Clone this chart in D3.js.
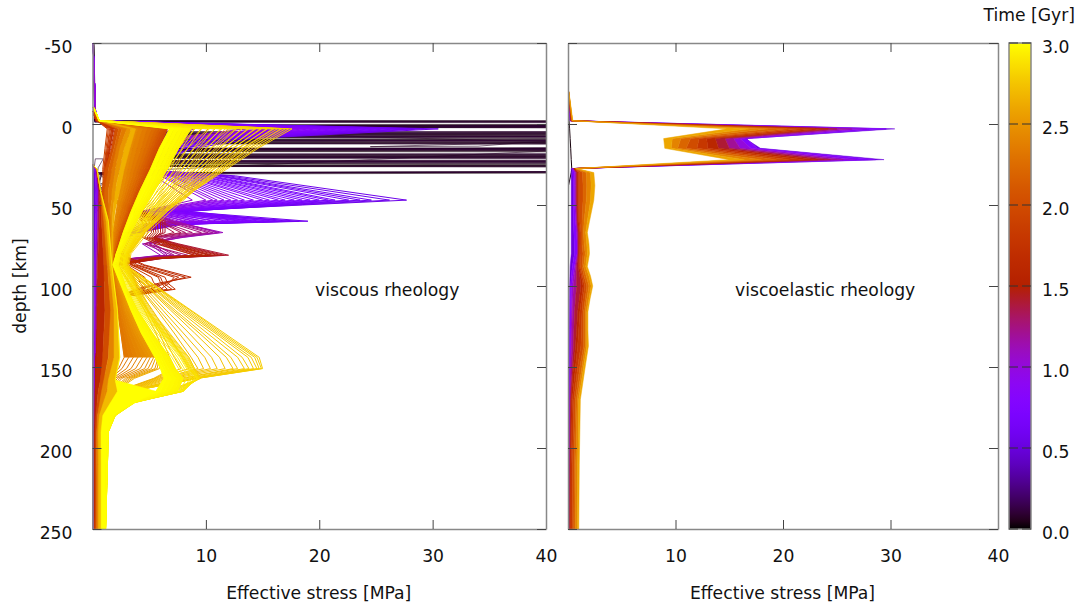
<!DOCTYPE html>
<html>
<head>
<meta charset="utf-8">
<script src="https://cdn.jsdelivr.net/npm/d3@7"></script>
<style>
  body { margin: 0; background: #fff; }
  text { font-family: "DejaVu Sans", sans-serif; font-size: 17.2px; fill: #111; }
  .tick text { font-size: 17.2px; fill: #111; }
  .tick line { stroke: #444; }
  .domain { stroke: #888; stroke-width: 1.5; }
</style>
</head>
<body>
<svg id="chart" width="1086" height="610"></svg>
<script>
// tick labels
var stressTicks = [10, 20, 30, 40];
var depthTicks = [-50, 0, 50, 100, 150, 200, 250];
var timeTicks = [0, 0.5, 1, 1.5, 2, 2.5, 3];

// left panel, first stage: thin lines, [stress, depth] as they zigzag far past the axis
var earlyTimes = [0.012, 0.02, 0.03, 0.05, 0.06, 0.08, 0.09, 0.1, 0.06, 0.08];
var earlyPaths = [
  [[.1,-50],[.2,-2],[280,-1],[3,1],[240,3],[3,6],[220,7],[3,9.5],[200,11],[3,16],[260,17],[3,20],[210,22],[3,24.5],[230,26],[.8,30.5],[2,33],[.4,38],[1,44],[.3,52]],
  [[.1,-50],[.2,-1.5],[250,0],[3,2],[300,4],[3,5],[240,6],[3,8],[220,9],[3,11.5],[250,13],[3,17],[210,18],[3,21],[190,22],[3,25.5],[240,27],[.6,31],[1.5,36],[.5,42],[.3,52]],
  [[.1,-50],[.2,-2],[320,-.5],[3,.5],[260,2],[3,7],[300,8],[3,10],[240,12],[3,15.5],[220,17],[3,19],[260,20],[3,23],[200,24],[3,26],[230,28],[.5,30],[2.2,34],[.6,40],[1,47],[.3,55]],
  [[.1,-50],[.2,-1.8],[290,-.8],[3,1.2],[310,3],[3,6.5],[280,8],[3,11],[220,13],[3,16.5],[240,18],[3,20.5],[280,22],[3,26],[240,27.5],[.9,30],[.5,37],[1.2,43],[.3,52]],
  [[.1,-50],[.2,-1.5],[260,.5],[3,2],[240,4],[3,8.5],[210,10],[3,12.2],[250,13.5],[3,15],[290,16],[3,19.5],[230,21],[3,23.5],[210,25],[.6,30.5],[1.8,33],[.5,39],[.3,52]],
  [[.1,-50],[.3,-1.6],[270,0],[3,1.8],[250,4],[3,7.5],[260,9],[3,12],[240,13.5],[3,15.2],[280,17],[3,20],[210,21],[3,22.5],[200,24],[3,26.2],[230,28],[.8,30],[.3,50]],
  [[.1,-50],[.2,-1],[290,.5],[3,1],[280,4],[3,6],[300,7],[3,10.5],[290,12],[3,16],[240,17.5],[3,18.5],[270,20],[3,24],[250,25.5],[.6,30.2],[1.6,35],[.4,45],[.3,55]],
  [[.1,-50],[.2,-1.9],[260,-1],[3,1.6],[230,3.2],[3,5],[260,6],[3,8],[230,9],[3,10],[260,11.5],[3,15.5],[240,17],[3,21],[280,22.5],[3,23],[220,25],[.5,30.8],[.3,50]],
  // the few that turn back inside the frame
  [[.2,-2],[24,8],[41,11],[24.5,14],[34,13.7],[38,11.5],[48,14],[.7,30],[.3,50]],
  [[.15,27],[.25,21.5],[.95,21.5],[.5,27],[.3,40]]
];

// left panel, second stage: spikes at 47 and 60 km
var purpleDepth = [-50, -2, 3, 9, 15, 22, 28, 32, 47, 50, 54, 60, 62, 67, 73, 80, 100, 150, 250];
var purpleTimes = [0.55, 0.57, 0.59, 0.61, 0.63, 0.65, 0.67, 0.69, 0.71, 0.73, 0.75, 0.77, 0.79, 0.81, 0.83, 0.85, 0.87, 0.89, 0.91, 0.93, 0.95, 0.97, 1.0, 1.05];
var purpleStress = [
  [.05,.3,30.5,14,9,6,4,12.6,27.7,18.5,6.5,13,6,3,2,1.5,.4,.2,.1],
  [.05,.3,29.2,13,8,6,4,12,26.2,17.8,7.6,14,6.5,3.5,2,1.4,.4,.2,.1],
  [.05,.3,28.4,12,9,5,4,11.5,24.6,17,8,19,7.5,4,2.2,1.5,.4,.2,.1],
  [.05,.3,27.8,13,8,6,3.6,11.2,23.6,16.5,5.8,18.2,7,3.4,2,1.3,.4,.2,.1],
  [.05,.3,27,12,8,5.4,3.6,11,22.6,16,7.2,17.4,7.6,3.8,2.1,1.4,.4,.2,.1],
  [.05,.3,26.2,11,8,5,3.5,10.5,21.4,15.4,8.6,16.6,7.8,4,2,1.4,.4,.2,.1],
  [.05,.3,25.4,11.4,7.4,5.2,3.3,10.2,20.8,15,6.4,16.2,6.8,3.6,2.1,1.2,.4,.2,.1],
  [.05,.3,24.8,11,7,5,3.2,10,20,14.6,7.8,15.6,7.2,3.7,2,1.3,.4,.2,.1],
  [.05,.3,24,10.6,7.2,5,3,9.6,19.2,14.2,5.8,15,6.4,3.4,1.9,1.2,.4,.2,.1],
  [.05,.3,23.4,10,7,4.8,3,9.4,18.5,13.8,8,14.4,7,3.8,2,1.3,.4,.2,.1],
  [.05,.3,22.8,10,7,4.5,3,9,17.8,13.2,6,13.8,6.2,3.2,1.8,1.1,.4,.2,.1],
  [.05,.3,22,9.6,6.6,4.5,2.9,8.8,17,12.8,7.4,13.2,6.4,3.4,2,1.2,.4,.2,.1],
  [.05,.3,21.4,9,6.5,4.5,2.8,8.5,16.4,12.2,5.4,12.4,6,3.2,1.8,1.1,.4,.2,.1],
  [.05,.3,20.8,9.2,6.2,4.2,2.8,8.2,15.6,11.6,6.8,11.8,6.2,3.4,1.9,1.2,.4,.2,.1],
  [.05,.3,20,9,6,4,2.8,8,15,11.2,5,11.2,6,3.2,1.8,1,.4,.2,.1],
  [.05,.3,19.4,8.4,6,4,2.7,7.7,14.2,10.6,6.4,10.6,6,3.4,1.9,1.1,.4,.2,.1],
  [.05,.3,18.8,8,6,4,2.6,7.5,13.4,10,4.8,10,6.2,3.6,2,1.1,.4,.2,.1],
  [.05,.3,18.2,8,5.6,3.8,2.5,7.2,12.8,9.6,6,9.6,5.6,3.2,1.7,1,.4,.2,.1],
  [.05,.3,17.6,7.8,5.5,3.6,2.4,7,12.2,9,4.6,9.2,5.4,3.2,1.7,1,.4,.2,.1],
  [.05,.3,17,7.5,5.2,3.5,2.4,6.8,11.6,8.8,5.6,8.8,5.2,3.4,1.8,1,.4,.2,.1],
  [.05,.3,16.4,7.5,5,3.4,2.4,6.5,11,8.4,4.4,8.4,5,3.4,1.8,1,.4,.2,.1],
  [.05,.3,15.6,7.2,5,3.3,2.3,6.2,10.6,8,5.2,8,4.9,3.1,1.7,.9,.4,.2,.1],
  [.05,.3,15,7,5,3.2,2.2,6,10,7.6,4.6,7.6,4.8,3,1.6,.9,.4,.2,.1],
  [.05,.3,13.5,6.5,4.6,3,2.1,5.4,8.8,7,4.2,7,4.4,2.8,1.6,.9,.4,.2,.1]
];

// left panel, third stage: spikes at 67 and 81 km
var maroonDepth = [-8, -2, 3, 15, 28, 47, 60, 67, 70, 74, 81, 83, 87, 100, 150, 250];
var maroonTimes = [1.1, 1.13, 1.16, 1.19, 1.22, 1.25, 1.28, 1.31, 1.34, 1.37, 1.4, 1.42, 1.44, 1.46, 1.48, 1.5, 1.52, 1.54, 1.56];
var maroonStress = [
  [.05,.3,9,4,2,2,7,11.5,8,4.4,6,3.4,1.4,.6,.3,.2],
  [.05,.3,8.4,4,2,2,7.2,11.2,7.8,5,6.4,3.5,1.4,.6,.3,.2],
  [.05,.3,8,4,2,2,7.2,11,7.4,5.4,6.6,3.6,1.4,.6,.3,.2],
  [.05,.3,7.4,3.8,2,2,6.8,10.6,7.2,4.6,7,3.7,1.6,.6,.3,.2],
  [.05,.3,7,3.6,2,2,6.6,10.2,7,5.4,7.2,3.8,1.6,.6,.3,.2],
  [.05,.3,6.4,3.4,2,2,6.4,9.6,6.4,5,7.8,4,1.6,.6,.3,.2],
  [.05,.3,6,3.2,1.8,2,6,8.8,6,4.6,8.4,4.2,1.8,.6,.3,.2],
  [.05,.3,5.6,3,1.8,2,5.8,8.2,5.6,5.8,9,4.6,1.8,.6,.3,.2],
  [.05,.3,5,3,1.8,2,5.8,7.8,5.6,6.2,9.6,4.8,1.8,.6,.3,.2],
  [.05,.3,5,3,1.8,2,5.6,7.2,5.4,6.8,10.4,5.2,2,.6,.3,.2],
  [.05,.3,4.5,2.8,1.6,2,6.4,6.4,5.4,7.6,12,6.2,2.2,.6,.3,.2],
  [.05,.3,4.2,2.7,1.6,2,6.2,6.2,5.4,7.4,11.6,6.1,2.2,.6,.3,.2],
  [.05,.3,4,2.6,1.6,2,6,6,5.6,7.2,11.3,6,2.2,.6,.3,.2],
  [.05,.3,3.8,2.5,1.6,1.9,5.7,5.8,5.4,7,11,5.8,2.2,.6,.3,.2],
  [.05,.3,3.5,2.4,1.6,1.8,5.4,5.6,5.2,6.8,10.6,5.6,2.2,.6,.3,.2],
  [.05,.3,3.2,2.3,1.5,1.8,5.2,5.4,5,6.6,10.2,5.4,2.1,.7,.3,.2],
  [.05,.3,3,2.2,1.5,1.8,5,5.2,4.8,6.4,9.8,5.2,2,.7,.3,.2],
  [.05,.3,2.9,2.1,1.5,1.7,4.7,4.9,4.6,6,9.4,5,2,.7,.3,.2],
  [.05,.3,2.8,2,1.5,1.7,4.4,4.6,4.4,5.6,9,4.8,2,.7,.3,.2]
];

// left panel, fourth stage: spikes at 95 and 102 km
var brownDepth = [-8, -2, 3, 15, 28, 47, 67, 81, 87, 94.6, 98, 102, 106, 115, 150, 250];
var brownTimes = [1.6, 1.63, 1.66, 1.69, 1.72, 1.75, 1.78, 1.81, 1.84, 1.87, 1.9];
var brownStress = [
  [.05,.4,2,1.6,1.2,1.3,1.8,2.8,4.6,8.7,6,3.8,2.4,1.4,.8,.2],
  [.05,.4,1.9,1.5,1.2,1.3,1.8,2.6,4.4,8.2,6.4,4.2,2.4,1.5,.8,.2],
  [.05,.4,2.1,1.7,1.3,1.3,1.7,2.5,4,7.6,6.6,5,2.6,1.5,.9,.2],
  [.05,.4,1.8,1.5,1.2,1.3,1.6,2.4,3.8,7.2,6.8,6,2.8,1.5,.9,.2],
  [.05,.4,1.8,1.5,1.2,1.2,1.6,2.4,3.6,6.4,6.6,7.3,3.4,1.6,.9,.2],
  [.05,.4,1.7,1.4,1.1,1.2,1.5,2.2,3.5,6,6.2,7,3.3,1.6,1,.2],
  [.05,.4,1.7,1.4,1.1,1.2,1.5,2.2,3.4,5.8,6,6.6,3.2,1.6,1,.2],
  [.05,.4,1.6,1.3,1.1,1.2,1.5,2.1,3.2,5.2,5.4,6.2,3,1.6,1,.25],
  [.05,.4,1.5,1.3,1,1.1,1.4,2,3,4.6,4.8,5.4,2.8,1.6,1.1,.25],
  [.05,.4,1.4,1.2,1,1.1,1.4,1.9,2.8,4,4.2,4.6,2.6,1.6,1.1,.25],
  [.05,.4,1.3,1.1,.9,1,1.3,1.8,2.6,3.6,3.8,4,2.4,1.6,1.1,.25]
];

// left panel, orange and yellow fans from 3 km to 87 km and on to 150 km
var fanDepth = [-10, -2, 3, 15, 28, 41, 54, 67, 80, 87, 101, 115, 129, 144, 151, 157, 165, 172, 180, 190, 250];
var orangeTimes = [1.95, 2, 2.05, 2.1, 2.15, 2.2, 2.25, 2.3, 2.35, 2.4, 2.45];
var orangeStress = [
  [.08,.5,6.6,5.9,5.1,4.2,3.4,2.7,2.1,1.8,1.4,1.5,1.5,1.6,1.5,1.1,.8,.6,.5,.42,.38],
  [.08,.5,6.4,5.7,4.9,4.1,3.3,2.6,2,1.8,1.5,1.6,1.6,1.7,1.5,1.1,.9,.7,.55,.46,.42],
  [.08,.5,6.2,5.5,4.8,3.9,3.2,2.5,2,1.8,1.5,1.6,1.7,1.8,1.6,1.2,1,.8,.6,.5,.46],
  [.08,.5,6,5.3,4.6,3.8,3.1,2.4,1.9,1.8,1.6,1.7,1.7,1.8,1.6,1.2,1,.8,.65,.55,.5],
  [.08,.5,5.8,5.1,4.4,3.7,3,2.3,1.9,1.7,1.6,1.7,1.8,1.9,1.7,1.3,1,.85,.7,.58,.54],
  [.08,.55,5.5,4.9,4.2,3.5,2.9,2.3,1.9,1.7,1.7,1.8,1.9,2,1.8,1.3,1,.85,.72,.6,.58],
  [.08,.55,5.2,4.6,4,3.3,2.7,2.2,1.8,1.7,1.7,1.8,1.9,2,1.8,1.3,1,.85,.75,.62,.62],
  [.08,.55,4.8,4.3,3.7,3.1,2.5,2.1,1.8,1.7,1.7,1.8,2,2.1,1.9,1.4,1,.9,.8,.66,.66],
  [.08,.55,4.4,3.9,3.4,2.9,2.4,2,1.8,1.7,1.8,1.9,2,2.1,1.9,1.4,1.1,.9,.82,.7,.7],
  [.08,.6,4,3.5,3.1,2.7,2.2,1.9,1.7,1.7,1.8,1.9,2,2.2,2,1.5,1.1,.95,.85,.72,.72],
  [.08,.6,3.6,3.2,2.8,2.4,2.1,1.8,1.7,1.8,1.8,1.9,2.1,2.2,2,1.5,1.1,.95,.9,.75,.75]
];
// solid part next to the axis above 87 km
var upperDepth = [-2, 3, 15, 28, 41, 54, 67, 80, 87];
var upperTimes = [1.9, 2.05, 2.2, 2.35, 2.5, 2.65];
var upperStress = [
  [.5,2,1.7,1.1,.8,.8,.9,1,1],
  [.5,2.3,1.9,1.4,1.05,1.1,1.2,1.3,1.4],
  [.55,2.6,2.1,1.7,1.4,1.4,1.5,1.6,1.6],
  [.55,3,2.4,2,1.7,1.6,1.6,1.6,1.7],
  [.6,3.4,2.8,2.4,2,1.8,1.7,1.7,1.7],
  [.6,3.8,3.3,2.8,2.4,2,1.8,1.8,1.8]
];
// the light orange block at 100-145 km and the hatch under it
var hatchDepth = [87, 101, 115, 129, 144, 151, 157, 165, 172, 180];
var hatchTimes = [2.3, 2.33, 2.36, 2.39, 2.42, 2.45, 2.48, 2.51, 2.54, 2.57, 2.6, 2.63];
var hatchStress = [
  [1.7,2,2.2,2.5,2.8,2.3,1.4,.9,.7,.6],
  [1.7,2.1,2.4,2.8,3.2,2.6,1.6,1,.75,.62],
  [1.7,2.1,2.5,3,3.6,3,1.8,1.1,.8,.64],
  [1.8,2.2,2.7,3.2,4,3.4,2,1.2,.85,.66],
  [1.8,2.3,2.8,3.5,4.4,3.8,2.2,1.3,.9,.68],
  [1.8,2.4,2.9,3.7,4.8,4.2,2.4,1.4,.95,.7],
  [1.8,2.4,3.1,3.9,5.1,4.6,2.6,1.5,1,.72],
  [1.9,2.5,3.2,4.1,5.4,4.9,2.9,1.6,1.05,.74],
  [1.9,2.5,3.3,4.3,5.6,5.2,3.1,1.7,1.1,.76],
  [1.9,2.6,3.4,4.5,5.8,5.5,3.3,1.8,1.15,.78],
  [2,2.6,3.5,4.7,5.9,5.7,3.5,1.9,1.2,.8],
  [2,2.7,3.6,4.8,6,5.9,3.7,2,1.25,.82]
];
var goldTimes = [2.66, 2.67, 2.68, 2.69, 2.7, 2.71, 2.72, 2.73, 2.74, 2.75, 2.755, 2.76, 2.765, 2.77, 2.775, 2.78, 2.785, 2.79];
var goldStress = [
  [.08,.6,9,7.6,6.2,5,3.9,3,2.4,2.2,3.4,4.6,5.6,6.4,7,5.4,2.2,1.3,.95,.8,.78],
  [.08,.6,9.6,8,6.6,5.2,4.1,3.1,2.5,2.3,3.5,4.8,5.9,6.8,7.3,5.5,2.3,1.35,1,.82,.8],
  [.08,.6,10.2,8.4,6.9,5.4,4.2,3.1,2.5,2.3,3.6,4.9,6.1,7.2,7.8,5.6,2.4,1.4,1,.82,.8],
  [.08,.6,10.8,9,7.4,5.8,4.4,3.3,2.6,2.4,3.9,5.3,6.6,7.9,8.5,5.8,2.6,1.4,1,.85,.82],
  [.08,.6,11.4,9.5,7.8,6.1,4.6,3.4,2.6,2.5,4.1,5.7,7.2,8.7,9.3,6,2.7,1.5,1.05,.86,.84],
  [.08,.6,12,10,8.2,6.4,4.8,3.5,2.7,2.5,4.2,5.9,7.6,9.3,9.8,6.2,2.8,1.5,1.05,.88,.86],
  [.08,.6,12.6,10.5,8.6,6.7,5,3.6,2.7,2.5,4.4,6.2,8,9.9,10.4,6.5,2.8,1.5,1.05,.88,.86],
  [.08,.6,13.2,11,9,6.9,5.1,3.7,2.8,2.6,4.6,6.5,8.5,10.5,11,6.8,2.9,1.6,1.1,.9,.88],
  [.08,.6,13.8,11.5,9.4,7.2,5.3,3.8,2.9,2.7,4.8,6.9,9,11.2,11.7,7.2,3,1.6,1.1,.92,.9],
  [.08,.6,14.4,12,9.8,7.5,5.5,3.9,3,2.7,4.9,7.1,9.4,11.8,12.4,7.8,3.1,1.7,1.15,.94,.92],
  [.08,.6,14.9,12.4,10.1,7.8,5.7,4,3,2.7,5,7.3,9.7,12.2,12.8,8,3.1,1.7,1.15,.94,.92],
  [.08,.6,15.4,12.8,10.4,8,5.9,4.1,3,2.8,5.2,7.6,10.1,12.8,13.4,8.4,3.2,1.7,1.15,.96,.94],
  [.08,.6,15.9,13.2,10.7,8.3,6.1,4.2,3,2.8,5.3,7.8,10.5,13.2,13.8,8.8,3.2,1.7,1.2,.96,.94],
  [.08,.6,16.3,13.5,11,8.5,6.2,4.3,3,2.8,5.4,8,10.8,13.7,14.2,9,3.3,1.7,1.2,.98,.96],
  [.08,.6,16.7,13.8,11.2,8.7,6.3,4.4,3.1,2.9,5.6,8.2,11,14,14.5,9.1,3.3,1.8,1.2,1,.98],
  [.08,.6,17,14.1,11.4,8.8,6.4,4.5,3.1,2.9,5.7,8.4,11.2,14.3,14.7,9.2,3.4,1.8,1.2,1,.98],
  [.08,.6,17.3,14.4,11.6,8.9,6.5,4.5,3.2,2.9,5.7,8.6,11.4,14.5,14.9,9.3,3.4,1.8,1.2,1,1],
  [.08,.6,17.6,14.6,11.8,9,6.6,4.6,3.2,2.9,5.8,8.7,11.6,14.7,15,9.3,3.4,1.8,1.2,1,1]
];
var yellowTimes = [2.8, 2.81, 2.82, 2.83, 2.84, 2.85, 2.86, 2.87, 2.88, 2.89, 2.9, 2.91, 2.92, 2.93, 2.94, 2.95, 2.96, 2.97, 2.98, 2.99, 3];
var yellowStress = [
  [.12,.6,16.6,13.8,11.4,9,6.9,4.9,3.4,3.2,4.1,5.2,6.8,8.5,9,9.5,6.5,2.6,1.7,1.25,1],
  [.12,.6,16,13.3,11,8.7,6.6,4.7,3.3,3.1,4,5.1,6.7,8.5,9,9.5,6.8,2.7,1.7,1.25,1],
  [.12,.6,15.4,12.9,10.6,8.4,6.4,4.6,3.3,3.1,3.9,5,6.6,8.4,8.9,9.5,7,2.8,1.7,1.25,1],
  [.12,.6,14.8,12.4,10.3,8.2,6.2,4.5,3.2,3,3.9,4.9,6.5,8.3,8.9,9.5,7.2,2.9,1.8,1.3,1],
  [.12,.6,14.3,12,10,8,6,4.4,3.2,3,3.8,4.9,6.4,8.2,8.8,9.5,7.4,3,1.8,1.3,1.02],
  [.12,.6,13.7,11.6,9.7,7.7,5.8,4.3,3.1,3,3.8,4.8,6.4,8.1,8.7,9.4,7.6,3.1,1.8,1.3,1.03],
  [.12,.6,13.2,11.2,9.4,7.5,5.7,4.2,3.1,2.9,3.7,4.8,6.3,8.1,8.7,9.4,7.7,3.2,1.8,1.3,1.04],
  [.12,.6,12.7,10.8,9.1,7.3,5.5,4.1,3,2.9,3.7,4.7,6.3,8,8.6,9.3,7.8,3.3,1.9,1.3,1.05],
  [.12,.6,12.2,10.4,8.8,7.1,5.4,4,3,2.8,3.6,4.6,6.2,8,8.6,9.3,7.9,3.4,1.9,1.3,1.06],
  [.12,.6,11.7,10.1,8.5,6.9,5.3,3.9,2.9,2.8,3.6,4.6,6.2,7.9,8.5,9.2,8,3.5,1.9,1.35,1.07],
  [.12,.6,11.3,9.7,8.2,6.7,5.2,3.9,2.9,2.7,3.5,4.5,6.1,7.8,8.4,9.2,8,3.5,1.9,1.35,1.08],
  [.12,.6,10.8,9.3,7.9,6.5,5.1,3.8,2.8,2.7,3.4,4.4,6,7.7,8.3,9,8,3.6,1.95,1.35,1.09],
  [.12,.6,10.3,8.9,7.6,6.2,5,3.7,2.8,2.6,3.3,4.3,5.9,7.5,8.1,8.8,8,3.6,1.95,1.35,1.1],
  [.12,.6,9.6,8.4,7.2,6,4.8,3.6,2.7,2.5,3.2,4.2,5.7,7.3,7.9,8.6,7.9,3.7,2,1.35,1.12],
  [.12,.6,9,7.9,6.8,5.7,4.6,3.5,2.6,2.4,3.1,4.1,5.5,7,7.6,8.3,7.7,3.7,2,1.4,1.14],
  [.12,.6,8.7,7.6,6.6,5.5,4.4,3.4,2.5,2.3,3,4,5.3,6.8,7.3,8,7.5,3.7,2,1.4,1.15],
  [.12,.6,8.4,7.4,6.4,5.3,4.2,3.2,2.4,2.2,2.9,3.9,5.1,6.5,7,7.7,7.2,3.6,2,1.4,1.15],
  [.12,.6,8,7.1,6.2,5.1,4.1,3.1,2.3,2.1,2.8,3.7,4.9,6.2,6.7,7.4,6.8,3.4,1.9,1.4,1.15],
  [.12,.6,7.6,6.7,5.9,4.9,3.9,3,2.2,2,2.7,3.6,4.7,6,6.4,7,6.4,3.2,1.9,1.35,1.15],
  [.12,.6,7.2,6.3,5.5,4.6,3.7,2.9,2.1,1.9,2.7,3.5,4.5,5.7,6.2,6.6,6,3,1.8,1.35,1.15],
  [.12,.6,6.8,5.9,5.1,4.2,3.4,2.7,2.1,1.8,2.6,3.4,4.3,5.5,6,6.3,5.6,2.8,1.7,1.3,1.15]
];

// left panel, stress close to the axis below the top layer
var baseDepth = [25, 28, 41, 60, 87, 115, 144, 158, 165, 180, 190, 210, 250];
var baseTimes = [0.02, 0.1, 0.5, 0.9, 1.3, 1.6, 2, 2.4, 2.7, 3];
var baseStress = [
  [0,0,0,0,0,0,0,0,0,0,0,0,0],
  [.02,.1,.1,.1,.1,.08,.06,.055,.05,.05,.05,.05,.05],
  [.02,.2,.3,.25,.2,.15,.12,.11,.1,.08,.08,.08,.08],
  [.02,.3,.5,.45,.35,.3,.3,.25,.2,.15,.12,.12,.12],
  [.02,.35,.6,.6,.45,.4,.4,.3,.25,.2,.18,.18,.18],
  [.02,.4,.7,.8,1,1.1,.9,.7,.5,.3,.25,.24,.24],
  [.02,.4,.7,1,1.3,1.6,1.4,1,.8,.45,.38,.36,.36],
  [.02,.4,.7,1.2,1.5,1.9,1.9,1.4,1.3,.6,.5,.52,.52],
  [.02,.4,.7,1.4,1.7,2.2,2.4,2,2.2,.9,.75,.76,.76],
  [.02,.4,.7,1.4,1.7,2.2,2.4,2,5.6,1.7,1.3,1.18,1.15]
];

// right panel
var rightDepth = [-20, -2, 3, 9, 15, 22, 27.5, 30, 38, 47, 60, 67, 74, 80, 88, 94, 100, 108, 116, 127, 137, 150, 170, 210, 250];
var rightTimes = [0.02, 0.2, 0.5, 0.8, 1, 1.2, 1.4, 1.6, 1.8, 2, 2.2, 2.4, 2.6];
var rightStress = [
  [.02,.1,.15,.2,.25,.3,.35,.3,.05,.04,.03,.03,.03,.03,.03,.03,.03,.03,.03,.03,.03,.03,.03,.03,.03],
  [.03,.2,30.4,16.5,17.9,29.4,.3,.3,.3,.3,.3,.3,.3,.3,.2,.18,.15,.15,.15,.14,.12,.1,.08,.06,.05],
  [.03,.2,29.6,16.6,17.6,28.6,.4,.45,.5,.5,.5,.55,.58,.6,.4,.3,.25,.22,.2,.19,.18,.15,.12,.1,.08],
  [.04,.25,27.8,16,17,26.8,.45,.6,.6,.6,.7,.8,.85,.85,.6,.45,.35,.32,.3,.27,.25,.2,.15,.12,.1],
  [.04,.25,26.4,15.4,16,25.6,.5,.7,.7,.7,.8,.85,.9,.9,.7,.6,.5,.45,.4,.36,.32,.25,.18,.14,.12],
  [.04,.3,25,14.6,15,24.4,.55,.8,.8,.8,.85,.95,.95,.95,.8,.8,.8,.7,.6,.55,.5,.4,.25,.18,.15],
  [.05,.3,24.2,13.7,14,23.2,.6,.85,.85,.85,.9,1,1,1,.95,1.1,1.2,1.05,.9,.8,.7,.5,.3,.22,.18],
  [.05,.3,23,12.9,13,22,.6,.95,.95,.95,1,1.1,1.1,1.05,1.05,1.25,1.4,1.25,1.1,1,.9,.7,.4,.28,.24],
  [.05,.35,21.6,12.2,12,20.6,.65,1.1,1.1,1.1,1.1,1.2,1.2,1.2,1.15,1.35,1.55,1.4,1.3,1.25,1.2,.9,.55,.42,.38],
  [.06,.35,20.4,11.4,11,19.4,.7,1.35,1.4,1.4,1.3,1.3,1.3,1.4,1.3,1.5,1.75,1.6,1.45,1.45,1.45,1.1,.7,.58,.54],
  [.06,.4,18.6,10.5,10.2,18,.7,1.7,1.75,1.7,1.5,1.45,1.5,1.6,1.45,1.7,1.95,1.75,1.6,1.6,1.6,1.3,.85,.72,.68],
  [.07,.4,16.8,9.7,9.6,16.4,.75,2.1,2.15,2.1,1.8,1.65,1.75,1.8,1.65,1.95,2.15,1.95,1.75,1.75,1.75,1.45,1,.9,.85],
  [.08,.45,14.8,8.9,9,15,.8,2.4,2.5,2.4,2,1.8,1.95,2,1.8,2.1,2.3,2.05,1.85,1.85,1.9,1.6,1.15,1.05,1]
];
// thin line along the right panel's axis above the surface
var rightTopTimes = [0.5];
var rightTopPaths = [[[.04,-50],[.04,-20]]];

// colour map as gnuplot's "rgbformulae 7,5,15" over the time range
function timeColor(t) {
  var v = Math.max(0, Math.min(1, t / 3));
  return d3.rgb(255 * Math.sqrt(v), 255 * v * v * v, 255 * Math.max(0, Math.sin(2 * Math.PI * v)));
}

var svg = d3.select("#chart");
var top_ = 43, bottom_ = 529;

var y = d3.scaleLinear().domain([-50, 250]).range([top_, bottom_]);
var xLeft = d3.scaleLinear().domain([0, 40]).range([92.5, 546]);
var xRight = d3.scaleLinear().domain([0, 40]).range([568, 998]);

function addClip(id, x) {
  svg.append("clipPath").attr("id", id).append("rect")
    .attr("x", x.range()[0]).attr("y", top_)
    .attr("width", x.range()[1] - x.range()[0]).attr("height", bottom_ - top_);
}
addClip("clip-left", xLeft);
addClip("clip-right", xRight);

function lineItems(times, rows, depth, x, width) {
  var line = d3.line().x(function(d) { return x(d[0]); }).y(function(d) { return y(d[1]); });
  return rows.map(function(row, i) {
    return { t: times[i], d: line(row.map(function(v, j) { return [v, depth[j]]; })), fill: false, w: width };
  });
}

function pathItems(times, paths, x, width) {
  var line = d3.line().x(function(d) { return x(d[0]); }).y(function(d) { return y(d[1]); });
  return paths.map(function(p, i) { return { t: times[i], d: line(p), fill: false, w: width }; });
}

// fill between two neighbouring profiles, down to maxDepth
function bandItems(times, rows, depth, x, maxDepth) {
  var area = d3.area()
    .defined(function(d) { return d[2] <= maxDepth; })
    .x0(function(d) { return x(d[0]); })
    .x1(function(d) { return x(d[1]); })
    .y(function(d) { return y(d[2]); });
  return d3.range(1, rows.length).map(function(i) {
    return {
      t: times[i],
      d: area(rows[i].map(function(v, j) { return [rows[i - 1][j], v, depth[j]]; })),
      fill: true,
      w: 0.5
    };
  });
}

var leftItems = [].concat(
  pathItems(earlyTimes, earlyPaths, xLeft, 0.6),
  lineItems(purpleTimes, purpleStress, purpleDepth, xLeft, 1),
  lineItems(maroonTimes, maroonStress, maroonDepth, xLeft, 1),
  lineItems(brownTimes, brownStress, brownDepth, xLeft, 1),
  bandItems(baseTimes, baseStress, baseDepth, xLeft, 250),
  bandItems(upperTimes, upperStress, upperDepth, xLeft, 87),
  lineItems(orangeTimes, orangeStress, fanDepth, xLeft, 1),
  bandItems(orangeTimes, orangeStress, fanDepth, xLeft, 87),
  lineItems(hatchTimes, hatchStress, hatchDepth, xLeft, 1),
  bandItems(hatchTimes, hatchStress, hatchDepth, xLeft, 144),
  lineItems(goldTimes, goldStress, fanDepth, xLeft, 1),
  lineItems(yellowTimes, yellowStress, fanDepth, xLeft, 0.9),
  bandItems(yellowTimes.slice(15), yellowStress.slice(15), fanDepth, xLeft, 250)
);
var rightItems = [].concat(
  pathItems(rightTopTimes, rightTopPaths, xRight, 1),
  lineItems(rightTimes.slice(0, 1), rightStress.slice(0, 1), rightDepth, xRight, 1),
  bandItems(rightTimes.slice(1), rightStress.slice(1), rightDepth, xRight, 250)
);

function drawProfiles(items, clip) {
  var sorted = items.slice().sort(function(a, b) { return d3.ascending(a.t, b.t); });
  svg.append("g").attr("clip-path", "url(#" + clip + ")")
    .selectAll("path").data(sorted).enter().append("path")
    .attr("d", function(d) { return d.d; })
    .attr("fill", function(d) { return d.fill ? timeColor(d.t) : "none"; })
    .attr("stroke", function(d) { return timeColor(d.t); })
    .attr("stroke-width", function(d) { return d.w; });
}
drawProfiles(leftItems, "clip-left");
drawProfiles(rightItems, "clip-right");

// frame and ticks of one panel, gnuplot style: ticks inside on all four sides
function drawFrame(x, showDepthLabels) {
  var tickLen = 9;
  svg.append("g").attr("transform", "translate(0," + bottom_ + ")")
    .call(d3.axisBottom(x).tickValues(stressTicks).tickSizeOuter(0).tickSizeInner(-tickLen).tickPadding(tickLen + 20 - 2))
    .selectAll("text").attr("dy", "0.32em");
  svg.append("g").attr("transform", "translate(0," + top_ + ")")
    .call(d3.axisTop(x).tickValues(stressTicks).tickSizeOuter(0).tickSizeInner(-tickLen).tickFormat(""));
  var left = svg.append("g").attr("transform", "translate(" + x.range()[0] + ",0)")
    .call(d3.axisLeft(y).tickValues(depthTicks).tickSizeOuter(0).tickSizeInner(-tickLen)
      .tickPadding(tickLen + 11).tickFormat(showDepthLabels ? String : ""));
  left.selectAll("text").attr("dy", "0.72em").attr("transform", "translate(0,-3)");
  svg.append("g").attr("transform", "translate(" + x.range()[1] + ",0)")
    .call(d3.axisRight(y).tickValues(depthTicks).tickSizeOuter(0).tickSizeInner(-tickLen).tickFormat(""));
  svg.append("text").attr("x", d3.mean(x.range()) - 0.5).attr("y", 599).attr("text-anchor", "middle")
    .text("Effective stress [MPa]");
}
drawFrame(xLeft, true);
drawFrame(xRight, false);

svg.append("text").attr("transform", "translate(26,286) rotate(-90)").attr("text-anchor", "middle").text("depth [km]");
svg.append("text").attr("x", 315).attr("y", 296).text("viscous rheology");
svg.append("text").attr("x", 735).attr("y", 296).text("viscoelastic rheology");

// colour bar
var barY = d3.scaleLinear().domain([0, 3]).range([bottom_, top_]);
var barX = 1009, barW = 22;
var grad = svg.append("linearGradient").attr("id", "time-grad")
  .attr("x1", 0).attr("x2", 0).attr("y1", 1).attr("y2", 0);
grad.selectAll("stop").data(d3.range(0, 3.001, 0.05)).enter().append("stop")
  .attr("offset", function(d) { return d / 3; })
  .attr("stop-color", function(d) { return timeColor(d); });
svg.append("rect").attr("x", barX).attr("y", top_).attr("width", barW).attr("height", bottom_ - top_)
  .attr("fill", "url(#time-grad)").attr("stroke", "#888").attr("stroke-width", 1.5);
var barTicks = svg.append("g").selectAll("g").data(timeTicks).enter().append("g");
barTicks.append("line").attr("x1", barX).attr("x2", barX + 9)
  .attr("y1", function(d) { return barY(d); }).attr("y2", function(d) { return barY(d); }).attr("stroke", "#333");
barTicks.append("line").attr("x1", barX + barW - 9).attr("x2", barX + barW)
  .attr("y1", function(d) { return barY(d); }).attr("y2", function(d) { return barY(d); }).attr("stroke", "#333");
barTicks.append("text").attr("x", 1042).attr("y", function(d) { return barY(d) + 10; })
  .text(function(d) { return d.toFixed(1); });
svg.append("text").attr("x", 1075).attr("y", 21).attr("text-anchor", "end").text("Time [Gyr]");
</script>
</body>
</html>
